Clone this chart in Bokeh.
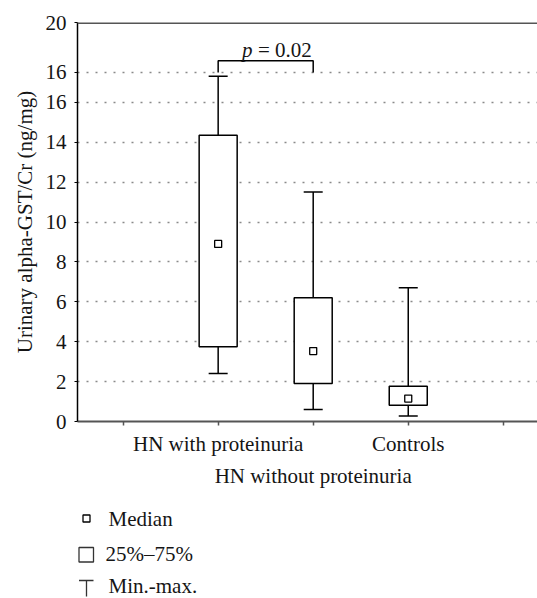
from bokeh.plotting import figure
from bokeh.models import Range1d, FixedTicker, LinearAxis, Span, ColumnDataSource
from bokeh.layouts import column
from bokeh.embed import file_html
from bokeh.resources import INLINE
from bokeh.core.properties import value

# ---- data ----
categories = ["HN with proteinuria", "HN without proteinuria", "Controls"]
positions = [1, 2, 3]
minimum = [2.4, 0.6, 0.28]
q1 = [3.75, 1.9, 0.82]
median = [8.9, 3.53, 1.15]
q3 = [14.35, 6.2, 1.77]
maximum = [17.3, 11.5, 6.7]
x_ticks = [0, 1, 2, 3, 4]
y_ticks = [0, 2, 4, 6, 8, 10, 12, 14, 16, 17.5, 20]
y_tick_labels = ["0", "2", "4", "6", "8", "10", "12", "14", "16", "16", "20"]
bracket_top = 18.08
bracket_drop = 17.5
p_label = "p"
p_value = "= 0.02"
legend_labels = ["Median", "25%\u201375%", "Min.-max."]

FONT = "Liberation Serif"
FS = "21px"
TXT = "#151515"
BOX_W = 0.4
CAP_W = 0.2

src = ColumnDataSource(dict(
    pos=positions, q1=q1, q3=q3, med=median, lo=minimum, hi=maximum,
    cl=[x - CAP_W / 2 for x in positions], cr=[x + CAP_W / 2 for x in positions],
))

p = figure(width=537, height=498, x_range=Range1d(-0.48, 4.36), y_range=Range1d(0, 20),
           output_backend="svg", toolbar_location=None,
           min_border_left=77, min_border_right=0, min_border_top=22, min_border_bottom=77)
p.outline_line_color = None

xa = p.xaxis[0]
xa.ticker = FixedTicker(ticks=x_ticks)
ov = {t: "" for t in x_ticks}
ov.update({positions[0]: categories[0], positions[2]: categories[2]})
xa.major_label_overrides = ov
xa.axis_line_color = "#555555"
xa.axis_line_width = 2
xa.major_tick_line_color = "#555555"
xa.major_tick_line_width = 1.5
xa.major_tick_out = 4
xa.major_tick_in = 0
xa.minor_tick_line_color = None
xa.major_label_text_font = FONT
xa.major_label_text_font_size = FS
xa.major_label_text_color = TXT
xa.major_label_standoff = 6

xa2 = LinearAxis(ticker=FixedTicker(ticks=[positions[1]]),
                 major_label_overrides={positions[1]: categories[1]})
xa2.axis_line_color = None
xa2.major_tick_line_color = None
xa2.minor_tick_line_color = None
xa2.major_label_text_font = FONT
xa2.major_label_text_font_size = FS
xa2.major_label_text_color = TXT
xa2.major_label_standoff = -1
p.add_layout(xa2, "below")

ya = p.yaxis[0]
ya.ticker = FixedTicker(ticks=y_ticks)
ya.major_label_overrides = {t: l for t, l in zip(y_ticks, y_tick_labels)}
ya.axis_line_color = "black"
ya.axis_line_width = 1.5
ya.major_tick_out = 3
ya.major_tick_in = 0
ya.major_tick_line_color = "black"
ya.minor_tick_line_color = None
ya.major_label_text_font = FONT
ya.major_label_text_font_size = FS
ya.major_label_text_color = TXT
ya.major_label_standoff = 8
ya.axis_label = "Urinary alpha-GST/Cr (ng/mg)"
ya.axis_label_text_font = FONT
ya.axis_label_text_font_size = FS
ya.axis_label_text_font_style = "normal"
ya.axis_label_text_color = TXT
ya.axis_label_standoff = 6

p.xgrid.visible = False
p.ygrid.ticker = FixedTicker(ticks=y_ticks[1:-1])
p.ygrid.grid_line_color = "#8a8a8a"
p.ygrid.grid_line_dash = "2 7"
p.ygrid.grid_line_width = 1.5

p.add_layout(Span(location=20, dimension="width", line_color="#555555", line_width=3))

p.segment(x0="pos", y0="q3", x1="pos", y1="hi", source=src, line_color="black", line_width=1.5)
p.segment(x0="pos", y0="q1", x1="pos", y1="lo", source=src, line_color="black", line_width=1.5)
p.segment(x0="cl", y0="hi", x1="cr", y1="hi", source=src, line_color="black", line_width=1.5)
p.segment(x0="cl", y0="lo", x1="cr", y1="lo", source=src, line_color="black", line_width=1.5)
p.vbar(x="pos", width=BOX_W, bottom="q1", top="q3", source=src,
       fill_color="white", line_color="black", line_width=1.5)
p.scatter(x="pos", y="med", source=src, marker="square", size=7,
          fill_color="white", line_color="black", line_width=1.3)

p.line(x=[positions[0], positions[0], positions[1], positions[1]],
       y=[bracket_drop, bracket_top, bracket_top, bracket_drop],
       line_color="black", line_width=1.5)
p.text(x=[positions[0] + 0.25], y=[18.6], text=[p_label], text_font=value(FONT),
       text_font_size=FS, text_font_style="italic", text_align="left",
       text_baseline="alphabetic", text_color=TXT)
p.text(x=[positions[0] + 0.25], y=[18.6], text=[p_value], text_font=value(FONT),
       text_font_size=FS, text_align="left", x_offset=16,
       text_baseline="alphabetic", text_color=TXT)

# legend panel; its frame is aligned with the main frame (x 77..537 px)
leg = figure(width=537, height=100, x_range=Range1d(77, 537), y_range=Range1d(598, 498),
             output_backend="svg", toolbar_location=None, min_border=0,
             min_border_left=77, x_axis_location=None, y_axis_location=None)
leg.outline_line_color = None
leg.grid.visible = False
leg.scatter(x=[86], y=[518], marker="square", size=7, fill_color="white",
            line_color="black", line_width=1.3)
leg.quad(left=[78.5], right=[93], top=[547], bottom=[561.5], fill_color="white",
         line_color="#333333", line_width=1.3)
leg.segment(x0=[78.5], y0=[580], x1=[93], y1=[580], line_color="#333333", line_width=1.3)
leg.segment(x0=[86], y0=[580], x1=[86], y1=[596], line_color="#333333", line_width=1.3)
leg.text(x=[108, 105, 108], y=[518, 553, 585], text=legend_labels, text_font=value(FONT),
         text_font_size=FS, text_baseline="middle", text_align="left", text_color=TXT)

layout = column(p, leg, spacing=0)
open("out.html", "w").write(file_html(layout, INLINE))
